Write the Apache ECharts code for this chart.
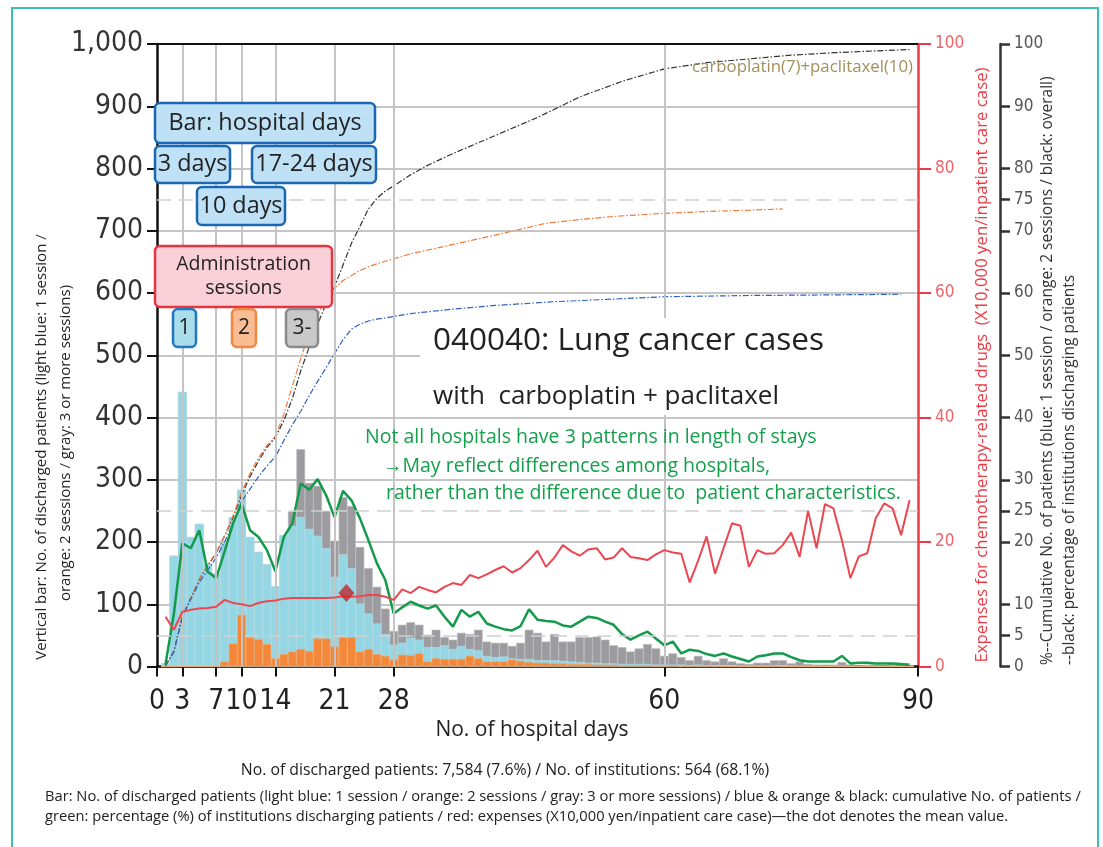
<!DOCTYPE html>
<html>
<head>
<meta charset="utf-8">
<title>040040 Lung cancer - carboplatin + paclitaxel</title>
<script src="https://cdn.jsdelivr.net/npm/echarts@6.0.0/dist/echarts.min.js"></script>
<style>
  html, body { margin: 0; padding: 0; background: #fff; }
  #chart { width: 1103px; height: 847px; }
</style>
</head>
<body>
<div id="chart"></div>
<script>
// hospital days 1..89 (x positions of the bars)
const days = Array.from({ length: 89 }, (_, i) => i + 1)

// discharged patients per day, by administration sessions
const twoSessions = [
  0, 0, 0, 0, 0, 0, 0, 8, 37, 83,
  47, 44, 36, 13, 20, 24, 28, 25, 45, 45,
  32, 47, 47, 24, 28, 20, 17, 11, 19, 18,
  21, 8, 13, 12, 12, 12, 17, 13, 8, 8,
  8, 11, 9, 7, 6, 6, 5, 5, 4, 4,
  4, 3, 3, 3, 2, 2, 2, 2, 1, 1,
  2, 1, 1, 1, 1, 1, 0, 0, 0, 0,
  0, 0, 1, 0, 0, 0, 0, 0, 0, 0,
  0, 0, 0, 0, 0, 0, 0, 0, 0
]
const oneSession = [
  5, 178, 441, 208, 229, 165, 150, 192, 203, 201,
  161, 140, 128, 116, 191, 202, 212, 196, 165, 145,
  112, 133, 111, 77, 57, 49, 35, 24, 19, 28,
  22, 23, 18, 22, 16, 21, 11, 13, 9, 7,
  8, 2, 3, 5, 4, 4, 5, 4, 4, 3,
  2, 3, 2, 2, 2, 2, 2, 2, 2, 2,
  1, 2, 1, 2, 1, 1, 2, 2, 1, 1,
  1, 1, 1, 2, 1, 1, 1, 1, 0, 1,
  1, 0, 0, 1, 0, 0, 1, 0, 0
]
const threePlus = [
  0, 0, 0, 0, 0, 0, 0, 0, 0, 0,
  0, 0, 0, 0, 0, 23, 109, 74, 80, 60,
  58, 92, 100, 91, 73, 59, 41, 22, 29, 25,
  24, 20, 28, 13, 15, 21, 24, 33, 23, 23,
  22, 20, 26, 47, 44, 30, 42, 31, 32, 40,
  41, 42, 38, 29, 27, 20, 25, 32, 26, 14,
  18, 12, 8, 14, 8, 6, 11, 6, 4, 3,
  5, 5, 8, 8, 4, 7, 3, 2, 3, 2,
  6, 3, 2, 2, 3, 2, 4, 2, 2
]

// green: % of institutions discharging patients on that day
const instPct = [
  0.3, 8.5, 19.8, 19, 21.9, 15.2, 14.2, 18.5, 23, 26.2,
  21.9, 20.8, 18.7, 15.3, 20.8, 23, 29.4, 28.4, 30.1, 27.5,
  24, 28.2, 26.7, 23.8, 20.3, 16.6, 13.9, 8.5, 9.5, 10.4,
  9.8, 9.3, 9.8, 8, 6.4, 9.1, 8, 8.8, 6.9, 6.4,
  6, 5.8, 6.5, 9.2, 7.5, 7.3, 7.2, 6.6, 6.4, 7.2,
  8, 7.8, 7.2, 6.7, 5.2, 4.3, 5, 5.6, 4.5, 3.4,
  4, 2.1, 2.7, 2.5, 2, 1.7, 2.1, 1.6, 1.2, 0.8,
  1.6, 1.8, 2.1, 2.1, 1.5, 1, 0.8, 0.8, 0.8, 0.8,
  1.7, 0.5, 0.6, 0.6, 0.5, 0.5, 0.5, 0.4, 0.3
]

// red: expenses for chemotherapy-related drugs (x10,000 yen / case)
const drugCost = [
  8, 5.9, 8.8, 9.1, 9.3, 9.4, 9.6, 10.7, 10.2, 10,
  9.7, 10.2, 10.5, 10.6, 10.9, 11, 11, 11, 11, 11,
  11.1, 11.3, 11.2, 11.3, 11.5, 11.5, 11.2, 10.7, 12.4, 11.8,
  12.8, 12.3, 11.9, 12.8, 13.4, 13.1, 14.7, 14.2, 14.8, 15.5,
  16.1, 15.1, 15.8, 17.1, 18.6, 16, 17.5, 19.5, 18.5, 17.8,
  18.8, 19, 17.2, 17.5, 19, 17.6, 17.4, 17.1, 18, 18.7,
  18.3, 18.1, 13.5, 17, 20.9, 14.9, 19, 23, 22.6, 16,
  18.7, 18.1, 18.2, 19.5, 21.5, 17.6, 25, 19, 26.1, 25.4,
  20.3, 14.2, 17.7, 18.2, 23.8, 26.2, 25.4, 21.1, 26.7
]

// mean hospital days / mean expense
const meanPoint = [22.4, 11.8]

// cumulative % of patients [day, %]
const cumOne = [
  [1, 0.1], [2, 2.3], [3, 8], [4, 10.8], [5, 13.5], [6, 15.5], [7, 17.5], [8, 20],
  [9, 23], [10, 26.5], [11, 28.5], [12, 30.5], [13, 32.2], [14, 33.7], [15, 36.3],
  [16, 38.8], [17, 41], [18, 43.5], [19, 45.8], [20, 48], [21, 50.3], [22, 52.5],
  [23, 54.2], [24, 55], [25, 55.5], [26, 55.8], [27, 56], [30, 56.7], [35, 57.4],
  [40, 58], [47, 58.6], [57, 59.2], [60, 59.4], [70, 59.6], [80, 59.7], [88, 59.8]
]
const cumTwo = [
  [1, 0.1], [2, 2.4], [3, 8], [4, 11], [5, 14], [6, 16.3], [7, 18.3], [8, 21],
  [9, 24.2], [10, 28], [11, 31], [12, 33.5], [13, 35.5], [14, 37], [15, 40.5],
  [16, 45], [17, 49.5], [18, 53.5], [19, 56.5], [20, 59], [21, 60.8], [22, 62],
  [23, 62.8], [24, 63.6], [25, 64.2], [26, 64.7], [27, 65.1], [28, 65.5], [30, 66.3],
  [35, 67.8], [40, 69.3], [46, 71.2], [50, 71.8], [54, 72.3], [60, 72.8], [65, 73.1],
  [70, 73.3], [74, 73.5]
]
const cumAll = [
  [1, 0.1], [2, 2.5], [3, 8], [4, 11], [5, 14], [6, 16.2], [7, 18.2], [8, 21],
  [9, 24], [10, 27.5], [11, 30.5], [12, 33], [13, 35.2], [14, 36.8], [15, 39.5],
  [16, 43], [17, 47.5], [18, 51.3], [19, 55], [20, 58.3], [21, 61], [22, 64.5],
  [23, 68], [24, 70.7], [25, 73.5], [26, 75.2], [27, 76.4], [28, 77.2], [30, 79],
  [32, 80.5], [35, 82.4], [40, 85.3], [45, 88.2], [50, 91.5], [55, 94], [60, 96],
  [65, 97], [70, 97.6], [75, 98.2], [80, 98.6], [85, 98.9], [89, 99.1]
]

// axis ticks
const dayTicks = [0, 3, 7, 10, 14, 21, 28, 60, 90]
const pctTicks = [0, 5, 10, 20, 25, 30, 40, 50, 60, 70, 75, 80, 90, 100]
const dashedLevels = [50, 250, 750]

const numFont = "'Liberation Sans Narrow', 'DejaVu Sans Condensed', 'Noto Sans', sans-serif"
const txtFont = "'Open Sans', 'Noto Sans', sans-serif"

// stacked tops (orange at the bottom, light blue, gray on top);
// drawn as overlapping bars because stack does not apply on a value x axis here
const orangeTop = days.map((d, i) => [d, twoSessions[i]])
const blueTop = days.map((d, i) => [d, twoSessions[i] + oneSession[i]])
const grayTop = days.map((d, i) => [d, twoSessions[i] + oneSession[i] + threePlus[i]])

const pair = arr => days.map((d, i) => [d, arr[i]])

function box(x, y, w, h, fill, stroke, lines, size) {
  const els = [{
    type: 'rect', z: 100,
    shape: { x: x, y: y, width: w, height: h, r: 5 },
    style: { fill: fill, stroke: stroke, lineWidth: 2.5 }
  }]
  const lh = size * 1.25
  lines.forEach((t, i) => {
    els.push({
      type: 'text', z: 101,
      x: x + w / 2,
      y: y + h / 2 + (i - (lines.length - 1) / 2) * lh,
      style: {
        text: t, fill: '#222', font: size + 'px ' + txtFont,
        align: 'center', verticalAlign: 'middle',
        textAlign: 'center', textVerticalAlign: 'middle'
      }
    })
  })
  return els
}

function vtext(x, y, text, size, color, align) {
  return {
    type: 'text', z: 50, x: x, y: y, rotation: Math.PI / 2,
    style: {
      text: text, fill: color, font: size + 'px ' + txtFont,
      align: align, verticalAlign: 'middle',
      textAlign: align, textVerticalAlign: 'middle'
    }
  }
}

function htext(x, y, text, size, color, align) {
  return {
    type: 'text', z: 50, x: x, y: y,
    style: {
      text: text, fill: color, font: size + 'px ' + txtFont,
      align: align || 'left', verticalAlign: 'middle',
      textAlign: align || 'left', textVerticalAlign: 'middle'
    }
  }
}

const chart = echarts.init(document.getElementById('chart'), null, { renderer: 'canvas' })

const graphics = [
  // outer frame
  { type: 'rect', z: 0, shape: { x: 12, y: 8, width: 1086, height: 900 },
    style: { fill: 'none', stroke: '#3dbdb4', lineWidth: 2 } },
  // top border of the plot
  { type: 'line', z: 20, shape: { x1: 157, y1: 44, x2: 918, y2: 44 },
    style: { stroke: '#111', lineWidth: 2 } },
  // white panel behind the title
  { type: 'rect', z: 40, shape: { x: 420, y: 318, width: 497, height: 97 },
    style: { fill: '#fff' } },
  htext(433, 341, '040040: Lung cancer cases', 31.5, '#222'),
  htext(433, 397, 'with  carboplatin + paclitaxel', 26, '#222'),
  htext(365, 437, 'Not all hospitals have 3 patterns in length of stays', 19.5, '#12a04a'),
  htext(383, 466, '→May reflect differences among hospitals,', 19.5, '#12a04a'),
  htext(386, 493, 'rather than the difference due to  patient characteristics.', 19.5, '#12a04a'),
  htext(913, 67, 'carboplatin(7)+paclitaxel(10)', 16.8, '#a38f5c', 'right'),
  // axis titles
  vtext(42, 447, 'Vertical bar: No. of discharged patients (light blue: 1 session /', 15, '#222', 'center'),
  vtext(66, 443, 'orange: 2 sessions / gray: 3 or more sessions)', 15, '#222', 'center'),
  vtext(982, 365, 'Expenses for chemotherapy-related drugs  (X10,000 yen/inpatient care case)', 16.8, '#ec3a44', 'center'),
  vtext(1048, 665, '%--Cumulative No. of patients (blue: 1 session / orange: 2 sessions / black: overall)', 15.5, '#333', 'left'),
  vtext(1070, 665, '--black: percentage of institutions discharging patients', 15.5, '#333', 'left'),
  htext(532, 730, 'No. of hospital days', 21, '#222', 'center'),
  // notes under the chart
  htext(505, 770, 'No. of discharged patients: 7,584 (7.6%) / No. of institutions: 564 (68.1%)', 15.8, '#222', 'center'),
  htext(45, 797, 'Bar: No. of discharged patients (light blue: 1 session / orange: 2 sessions / gray: 3 or more sessions) / blue & orange & black: cumulative No. of patients /', 14.7, '#222'),
  htext(45, 817, 'green: percentage (%) of institutions discharging patients / red: expenses (X10,000 yen/inpatient care case)\u2014the dot denotes the mean value.', 14.7, '#222')
]
  .concat(box(155, 103, 220, 40, '#bfe1f6', '#1b67b3', ['Bar: hospital days'], 23.4))
  .concat(box(155, 146, 75, 37, '#bfe1f6', '#1b67b3', ['3 days'], 23.4))
  .concat(box(252, 146, 124, 37, '#bfe1f6', '#1b67b3', ['17-24 days'], 23.4))
  .concat(box(197, 187, 88, 38, '#bfe1f6', '#1b67b3', ['10 days'], 23.4))
  .concat(box(155, 246, 177, 61, '#f9cfd8', '#e8343e', ['Administration', 'sessions'], 19.5))
  .concat(box(173, 309, 23, 38, '#a9dde9', '#2078c0', ['1'], 21))
  .concat(box(232, 309, 24, 38, '#f9bd94', '#f08844', ['2'], 21))
  .concat(box(286, 309, 32, 38, '#c9c9c9', '#8a8a8a', ['3-'], 21))

chart.setOption({
  animation: false,
  backgroundColor: '#fff',
  grid: { left: 157, right: 185, top: 44, bottom: 180.5, containLabel: false },
  xAxis: {
    type: 'value', min: 0, max: 90,
    axisLine: { show: true, onZero: false, lineStyle: { color: '#111', width: 2.5 } },
    axisTick: { show: true, length: 10, customValues: dayTicks, lineStyle: { color: '#111', width: 2 } },
    axisLabel: { customValues: dayTicks, fontSize: 28, color: '#222', fontFamily: numFont, margin: 21 },
    splitLine: { show: false }
  },
  yAxis: [
    {
      type: 'value', min: 0, max: 1000, interval: 100, position: 'left',
      axisLine: { show: true, lineStyle: { color: '#111', width: 2.5 } },
      axisTick: { show: true, length: 10, lineStyle: { color: '#111', width: 2 } },
      axisLabel: {
        fontSize: 28, color: '#333', fontFamily: numFont, margin: 14,
        formatter: v => v.toLocaleString('en-US')
      },
      splitLine: { show: true, lineStyle: { color: '#c6c6c6', width: 2 } }
    },
    {
      type: 'value', min: 0, max: 100, interval: 20, position: 'right',
      axisLine: { show: true, lineStyle: { color: '#ec3a44', width: 2.5 } },
      axisTick: { show: true, length: 13, lineStyle: { color: '#ec3a44', width: 2 } },
      axisLabel: { fontSize: 17, color: '#f0646a', fontFamily: numFont, margin: 17 },
      splitLine: { show: false }
    },
    {
      type: 'value', min: 0, max: 100, position: 'right', offset: 82,
      axisLine: { show: true, lineStyle: { color: '#333', width: 2.5 } },
      axisTick: { show: true, length: 10, customValues: pctTicks, lineStyle: { color: '#333', width: 2.5 } },
      axisLabel: { customValues: pctTicks, fontSize: 17, color: '#555', fontFamily: numFont, margin: 14 },
      splitLine: { show: false }
    }
  ],
  series: [
    {
      // vertical grid lines at the labelled days
      type: 'line', data: [], z: 1, silent: true,
      markLine: {
        silent: true, symbol: 'none', label: { show: false },
        lineStyle: { color: '#c4c4c4', width: 2, type: 'solid' },
        data: dayTicks.filter(d => d > 0 && d < 90).map(d => ({ xAxis: d }))
      }
    },
    {
      // dashed reference levels (5% / 25% / 75%)
      type: 'line', data: [], z: 1, silent: true,
      markLine: {
        silent: true, symbol: 'none', label: { show: false },
        lineStyle: { color: '#cfcfcf', width: 1.5, type: [14, 8] },
        data: dashedLevels.map(v => ({ yAxis: v }))
      }
    },
    {
      name: '3+ sessions', type: 'bar', barWidth: 8.6, barGap: '-100%', z: 2,
      itemStyle: { color: '#9c9ca0', borderColor: '#b6b6b9', borderWidth: 0.6 },
      data: grayTop
    },
    {
      name: '1 session', type: 'bar', barWidth: 8.6, barGap: '-100%', z: 2,
      itemStyle: { color: '#94d6e3', borderColor: '#b4e3ec', borderWidth: 0.6 },
      data: blueTop
    },
    {
      name: '2 sessions', type: 'bar', barWidth: 8.6, barGap: '-100%', z: 2,
      itemStyle: { color: '#f4883a', borderColor: '#f7a86c', borderWidth: 0.6 },
      data: orangeTop
    },
    {
      name: 'cum all', type: 'line', yAxisIndex: 2, z: 3, showSymbol: false,
      lineStyle: { color: '#333', width: 1.2, type: [6, 2, 1.5, 2] },
      data: cumAll
    },
    {
      name: 'cum 1+2', type: 'line', yAxisIndex: 2, z: 3, showSymbol: false,
      lineStyle: { color: '#f27a38', width: 1.2, type: [6, 2, 1.5, 2] },
      data: cumTwo
    },
    {
      name: 'cum 1', type: 'line', yAxisIndex: 2, z: 3, showSymbol: false,
      lineStyle: { color: '#2f5fc0', width: 1.2, type: [6, 2, 1.5, 2] },
      data: cumOne
    },
    {
      name: 'institutions', type: 'line', yAxisIndex: 2, z: 4, showSymbol: false,
      lineStyle: { color: '#139a4a', width: 2.5 },
      data: pair(instPct)
    },
    {
      name: 'expenses', type: 'line', yAxisIndex: 1, z: 5, showSymbol: false,
      lineStyle: { color: '#ec4650', width: 2 },
      data: pair(drugCost)
    },
    {
      name: 'mean', type: 'scatter', yAxisIndex: 1, z: 6,
      symbol: 'diamond', symbolSize: [16, 18],
      itemStyle: { color: '#c0282d' },
      data: [meanPoint]
    }
  ],
  graphic: graphics
})
</script>
</body>
</html>
